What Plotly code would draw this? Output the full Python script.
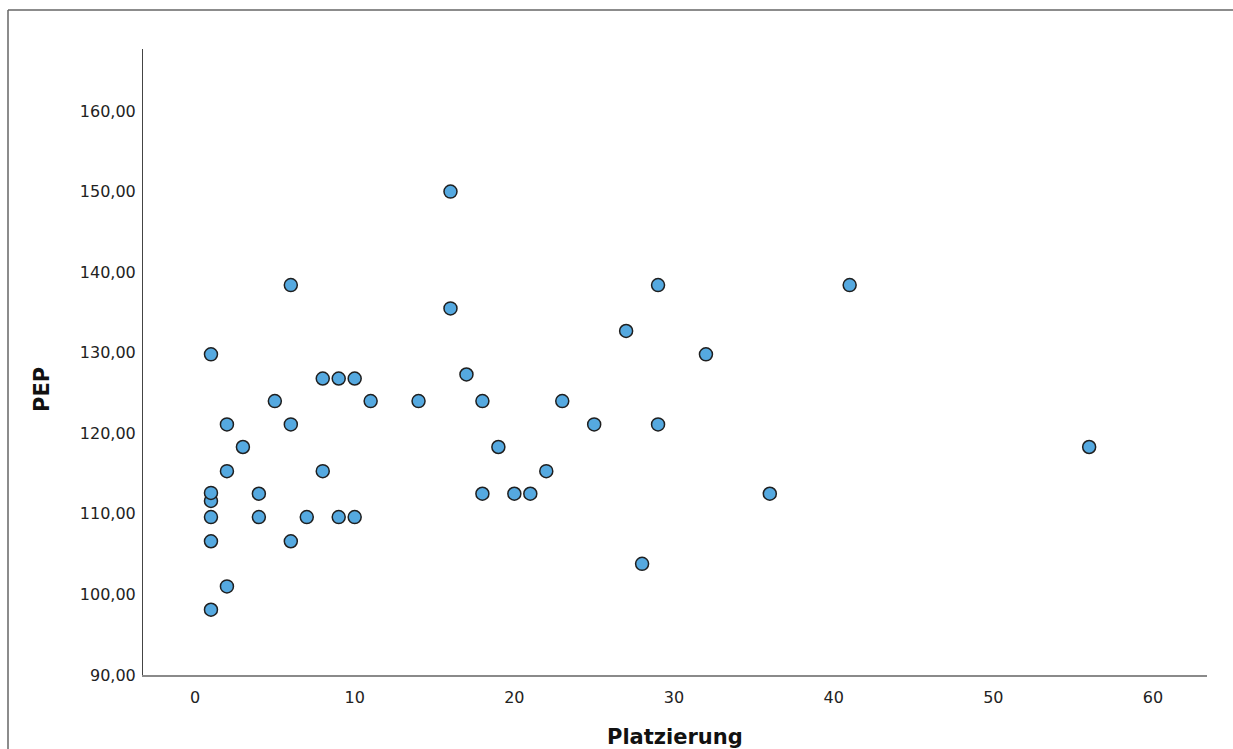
import plotly.graph_objects as go

# Data
platzierung = [1, 2, 1, 1, 1, 1, 2, 2, 1, 3, 4, 4, 5, 6, 6, 6, 7, 8, 8, 9, 9, 10, 10, 11, 14,
               16, 16, 17, 18, 18, 19, 20, 21, 22, 23, 25, 27, 28, 29, 29, 32, 36, 41, 56]
pep = [98.1, 101.0, 106.6, 109.6, 111.6, 112.6, 115.3, 121.1, 129.8, 118.3, 112.5, 109.6, 124.0,
       138.4, 121.1, 106.6, 109.6, 126.8, 115.3, 126.8, 109.6, 126.8, 109.6, 124.0, 124.0,
       150.0, 135.5, 127.3, 124.0, 112.5, 118.3, 112.5, 112.5, 115.3, 124.0, 121.1, 132.7,
       103.8, 138.4, 121.1, 129.8, 112.5, 138.4, 118.3]

x_ticks = [0, 10, 20, 30, 40, 50, 60]
y_ticks = [90, 100, 110, 120, 130, 140, 150, 160]
y_ticktext = [f"{v},00" for v in y_ticks]

W, H = 1233, 749
L, R, T, B = 143, 26, 49, 74
pw, ph = W - L - R, H - T - B

def px(xp):
    return (xp - L) / pw

def py(yp):
    return 1 - (yp - T) / ph

fig = go.Figure()
fig.add_trace(go.Scatter(
    x=platzierung, y=pep, mode="markers",
    marker=dict(size=13, color="#55A9E0", line=dict(color="#1f1f1f", width=1.5)),
    showlegend=False, cliponaxis=False,
))

font_family = "DejaVu Sans"
fig.update_layout(
    width=W, height=H,
    margin=dict(l=L, r=R, t=T, b=B),
    paper_bgcolor="white", plot_bgcolor="white",
    font=dict(family=font_family, color="#222222", size=16),
    xaxis=dict(
        range=[-3.257, 63.38], tickvals=x_ticks, ticktext=[str(v) for v in x_ticks],
        showgrid=False, zeroline=False, showline=True, linecolor="#8a8a8a", linewidth=2,
        ticks="outside", ticklen=7, tickcolor="rgba(0,0,0,0)",
        tickfont=dict(size=16, family=font_family, color="#222222"),
    ),
    yaxis=dict(
        range=[90, 167.7], tickvals=y_ticks, ticktext=y_ticktext,
        showgrid=False, zeroline=False, showline=True, linecolor="#444444", linewidth=1,
        ticks="outside", ticklen=3, tickcolor="rgba(0,0,0,0)",
        tickfont=dict(size=16, family=font_family, color="#222222"),
    ),
    annotations=[
        dict(text="<b>PEP</b>", xref="paper", yref="paper", x=px(42), y=py(390),
             showarrow=False, textangle=-90, font=dict(size=21, family=font_family, color="#111111"),
             xanchor="center", yanchor="middle"),
        dict(text="<b>Platzierung</b>", xref="paper", yref="paper", x=px(675), y=py(737),
             showarrow=False, font=dict(size=21, family=font_family, color="#111111"),
             xanchor="center", yanchor="middle"),
    ],
    shapes=[
        dict(type="line", xref="paper", yref="paper", x0=px(8), x1=px(1250), y0=py(10), y1=py(10),
             line=dict(color="#666666", width=1.5)),
        dict(type="line", xref="paper", yref="paper", x0=px(8), x1=px(8), y0=py(10), y1=py(760),
             line=dict(color="#666666", width=1.5)),
    ],
)

fig.write_html("out.html")
